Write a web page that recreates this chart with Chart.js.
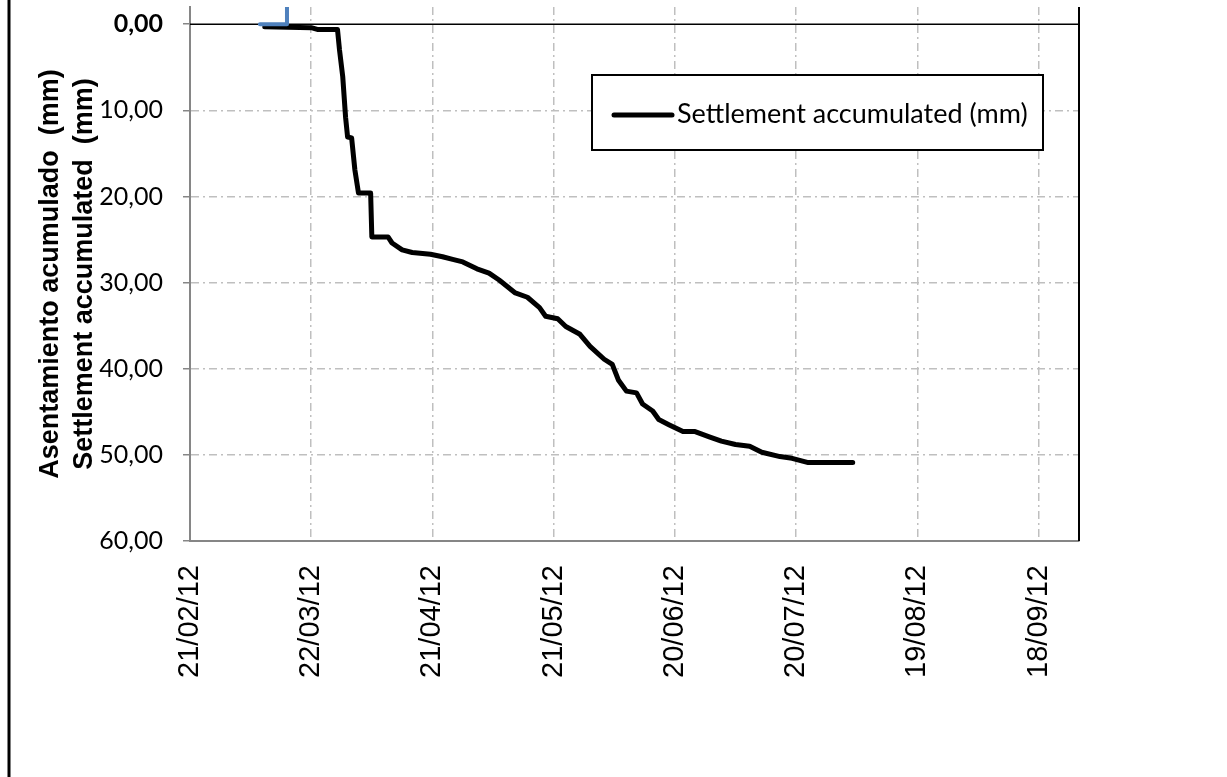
<!DOCTYPE html>
<html>
<head>
<meta charset="utf-8">
<script src="https://cdn.jsdelivr.net/npm/chart.js@4"></script>
<style>
  body { margin: 0; background: #fff; }
  canvas { display: block; }
</style>
</head>
<body>
<canvas id="settle" width="1227" height="777"></canvas>
<script>
// days counted from 21/02/12 (day 0)
const settlementDays = [18.5, 30, 31.5, 36.5, 37, 37.8, 38.5, 39, 40, 40.8, 41.7, 44.7, 45, 49, 50,
    52.5, 55, 59.5, 62.5, 65, 67.5, 71, 74, 76.5, 80.5, 83.5, 86.5, 88, 91, 93, 96.5, 99, 102.5,
    104.5, 106, 108, 110.5, 112, 114.5, 116, 118.5, 122, 125, 128.5, 131.5, 135, 138.5, 141.5,
    146, 149, 153, 164];
const settlementMm = [0.3, 0.4, 0.6, 0.6, 3.0, 6.1, 10.8, 13.1, 13.2, 16.9, 19.6, 19.6, 24.7, 24.7, 25.4,
    26.2, 26.5, 26.7, 27.0, 27.3, 27.6, 28.4, 28.9, 29.7, 31.2, 31.7, 32.9, 33.9, 34.2, 35.1, 36.0, 37.4, 38.9,
    39.5, 41.3, 42.6, 42.8, 44.1, 44.9, 45.9, 46.5, 47.3, 47.3, 47.9, 48.4, 48.8, 49.0, 49.7,
    50.2, 50.4, 50.9, 50.9];

const otherDays = [17.3, 24, 24];
const otherMm = [0, 0, -5];

const xTickLabels = ["21/02/12", "22/03/12", "21/04/12", "21/05/12", "20/06/12", "20/07/12", "19/08/12", "18/09/12"];
const yTickValues = [0, 10, 20, 30, 40, 50, 60];

const ctx = document.getElementById("settle").getContext("2d");

const toPts = (xs, ys) => xs.map((x, i) => ({ x, y: ys[i] }));

const extras = {
    id: "extras",
    beforeDraw(chart) {
        const c = chart.ctx;
        c.save();
        c.fillStyle = "#fff";
        c.fillRect(0, 0, chart.width, chart.height);
        c.restore();
    },
    beforeDatasetsDraw(chart) {
        const c = chart.ctx, a = chart.chartArea;
        const y0 = chart.scales.y.getPixelForValue(0);
        c.save();
        c.strokeStyle = "#000";
        c.lineWidth = 1.5;
        c.beginPath();
        c.moveTo(a.left, y0);
        c.lineTo(a.right, y0);
        c.stroke();
        c.lineWidth = 2;
        c.beginPath();
        c.moveTo(a.right, a.top);
        c.lineTo(a.right, a.bottom);
        c.stroke();
        c.restore();
    },
    afterDraw(chart) {
        const c = chart.ctx, a = chart.chartArea;
        c.save();
        // outer figure edge
        c.strokeStyle = "#000";
        c.lineWidth = 3;
        c.beginPath();
        c.moveTo(9, 0);
        c.lineTo(9, chart.height);
        c.stroke();

        // legend
        const ds = chart.data.datasets[1];
        const bx = a.left + 402, by = 75, bw = 451, bh = 75;
        c.fillStyle = "#fff";
        c.fillRect(bx, by, bw, bh);
        c.lineWidth = 2;
        c.strokeRect(bx, by, bw, bh);
        c.strokeStyle = ds.borderColor;
        c.lineWidth = 5;
        c.lineCap = "round";
        c.beginPath();
        c.moveTo(bx + 22, by + 40);
        c.lineTo(bx + 80, by + 40);
        c.stroke();
        c.fillStyle = "#000";
        c.font = "27px Lato";
        c.textBaseline = "middle";
        c.fillText(ds.label, bx + 85, by + 39);
        c.restore();
    }
};

new Chart(ctx, {
    type: "line",
    data: {
        datasets: [{
            label: "",
            data: toPts(otherDays, otherMm),
            borderColor: "#4F81BD",
            borderWidth: 4,
            pointRadius: 0,
            borderCapStyle: "round",
            borderJoinStyle: "round",
            tension: 0
        }, {
            label: "Settlement accumulated (mm)",
            data: toPts(settlementDays, settlementMm),
            borderColor: "#000",
            borderWidth: 5,
            pointRadius: 0,
            borderCapStyle: "round",
            borderJoinStyle: "round",
            tension: 0
        }]
    },
    options: {
        responsive: false,
        animation: false,
        layout: { padding: { top: 7, right: 148, left: 0, bottom: 0 } },
        plugins: { legend: { display: false }, tooltip: { enabled: false } },
        scales: {
            x: {
                type: "linear",
                min: 0,
                max: 220,
                afterBuildTicks: s => {
                    s.ticks = xTickLabels.map((_, i) => ({ value: i * 30 }));
                },
                afterFit: s => {
                    s.height = 236;
                    s.paddingLeft = 0;
                    s.paddingRight = 0;
                },
                ticks: {
                    maxRotation: 90,
                    minRotation: 90,
                    padding: 24,
                    color: "#000",
                    font: { family: "'Liberation Sans'", size: 29 },
                    callback: (v) => xTickLabels[Math.round(v / 30)]
                },
                grid: {
                    color: ctx => ctx.tick && ctx.tick.value === 0 ? "rgba(0,0,0,0)" : "#BFBFBF",
                    lineWidth: 1.5,
                    drawTicks: false
                },
                border: { display: true, color: "#868686", width: 2, dash: [8, 4, 2, 4] }
            },
            y: {
                type: "linear",
                reverse: true,
                min: -2,
                max: 60,
                afterBuildTicks: s => {
                    s.ticks = yTickValues.map(v => ({ value: v }));
                },
                afterFit: s => {
                    s.width = 190;
                    s.paddingTop = 0;
                    s.paddingBottom = 0;
                },
                ticks: {
                    color: "#000",
                    padding: 20,
                    font: c => ({ family: "Lato", size: 25, weight: c.tick && c.tick.value === 0 ? "bold" : "normal" }),
                    callback: v => v.toFixed(2).replace(".", ",")
                },
                grid: {
                    color: c => (c.tick && (c.tick.value === 0 || c.tick.value === 60)) ? "rgba(0,0,0,0)" : "#BFBFBF",
                    tickColor: "#868686",
                    tickLength: 7,
                    tickBorderDash: [],
                    lineWidth: 1.5
                },
                border: { display: true, color: "#868686", width: 2, dash: [8, 4, 2, 4] },
                title: {
                    display: true,
                    text: ["Asentamiento acumulado  (mm)", "Settlement accumulated  (mm)"],
                    color: "#000",
                    font: { family: "'Liberation Sans'", size: 27, weight: "bold", lineHeight: 1.28 },
                    padding: { top: 33, bottom: 0 }
                }
            }
        }
    },
    plugins: [extras]
});
</script>
</body>
</html>
